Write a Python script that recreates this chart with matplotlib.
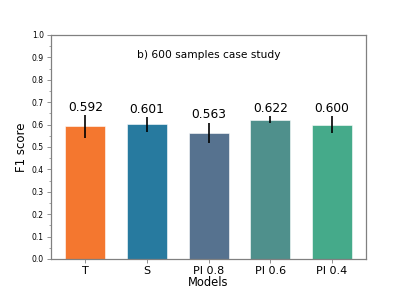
import matplotlib
matplotlib.use("Agg")
import matplotlib.pyplot as plt
from matplotlib.ticker import MultipleLocator

models = ["T", "S", "PI 0.8", "PI 0.6", "PI 0.4"]
f1_scores = [0.592, 0.601, 0.563, 0.622, 0.600]
f1_errors = [0.050, 0.033, 0.045, 0.016, 0.037]
colors = ["#F4772F", "#277A9F", "#56728F", "#4F908C", "#45AA8A"]

fig, ax = plt.subplots(figsize=(4.07, 2.91), dpi=100)
fig.subplots_adjust(left=0.125, right=0.9, bottom=0.11, top=0.88)

x = list(range(len(models)))
ax.bar(x, f1_scores, width=0.65, color=colors, edgecolor="white", linewidth=0.4,
       alpha=1.0)
ax.errorbar(x, f1_scores, yerr=f1_errors, fmt="none", ecolor="black",
            elinewidth=1.2, capsize=0)

for xi, v, e in zip(x, f1_scores, f1_errors):
    ax.text(xi, v + e + 0.006, f"{v:.3f}", ha="center", va="bottom", fontsize=8.8)

ax.text(0.5, 0.91, "b) 600 samples case study", transform=ax.transAxes,
        ha="center", va="center", fontsize=7.7)

ax.set_ylim(0, 1.0)
ax.yaxis.set_major_locator(MultipleLocator(0.1))
ax.yaxis.set_minor_locator(MultipleLocator(0.05))
ax.set_xticks(x)
ax.set_xticklabels(models, fontsize=8)
ax.tick_params(axis="y", labelsize=5.5, colors="#808080", labelcolor="black",
               length=3, width=0.6, pad=2)
ax.tick_params(axis="y", which="minor", length=1.8, width=0.5, colors="#808080")
ax.tick_params(axis="x", length=3, width=0.6, colors="#808080", labelcolor="black", pad=2)
ax.set_ylabel("F1 score", fontsize=8.5, labelpad=3)
ax.set_xlabel("Models", fontsize=8.3, labelpad=0)
for s in ax.spines.values():
    s.set_color("#808080")
    s.set_linewidth(0.9)

fig.savefig("out.png", dpi=100)
